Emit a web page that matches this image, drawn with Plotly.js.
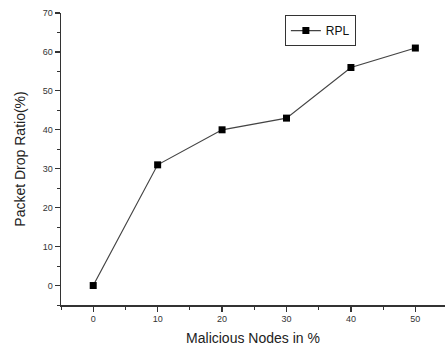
<!DOCTYPE html>
<html>
<head>
<meta charset="utf-8">
<script src="https://cdn.plot.ly/plotly-3.0.1.min.js"></script>
<style>html,body{margin:0;padding:0;background:#fff;}#chart{width:445px;height:352px;}</style>
</head>
<body>
<div id="chart"></div>
<script>
const maliciousNodes = [0, 10, 20, 30, 40, 50];
const packetDropRatio = [0, 31, 40, 43, 56, 61];
const seriesName = "RPL";

const trace = {
  x: maliciousNodes,
  y: packetDropRatio,
  name: seriesName,
  type: 'scatter',
  mode: 'lines+markers',
  line: {color: '#444', width: 1.2},
  marker: {symbol: 'square', size: 7, color: '#000'}
};

const axisCommon = {
  showline: true, linecolor: '#333', linewidth: 1.5,
  showgrid: false, zeroline: false,
  ticks: 'outside', ticklen: 5, tickwidth: 1.2, tickcolor: '#333',
  tickfont: {family: 'Liberation Sans, Arial, sans-serif', size: 9, color: '#333'},
  minor: {dtick: 5, ticks: 'outside', ticklen: 3, tickwidth: 1, tickcolor: '#333', showgrid: false}
};

const layout = {
  width: 445, height: 352,
  margin: {l: 61, r: 0, t: 13, b: 47},
  paper_bgcolor: '#fff', plot_bgcolor: '#fff',
  showlegend: true,
  legend: {
    x: 0.583, y: 0.993, xanchor: 'left', yanchor: 'top',
    bordercolor: '#333', borderwidth: 1, bgcolor: '#fff',
    font: {family: 'Liberation Sans, Arial, sans-serif', size: 12, color: '#111'},
    itemwidth: 30, tracegroupgap: 0
  },
  xaxis: Object.assign({}, axisCommon, {
    range: [-5, 54.6], tickmode: 'linear', tick0: 0, dtick: 10,
    title: {text: 'Malicious Nodes in %', font: {family: 'Liberation Sans, Arial, sans-serif', size: 14, color: '#222'}, standoff: 10}
  }),
  yaxis: Object.assign({}, axisCommon, {
    range: [-5, 70], tickmode: 'linear', tick0: 0, dtick: 10,
    title: {text: 'Packet Drop Ratio(%)', font: {family: 'Liberation Sans, Arial, sans-serif', size: 14, color: '#222'}, standoff: 14}
  })
};

Plotly.newPlot('chart', [trace], layout, {staticPlot: true, displayModeBar: false});
</script>
</body>
</html>
